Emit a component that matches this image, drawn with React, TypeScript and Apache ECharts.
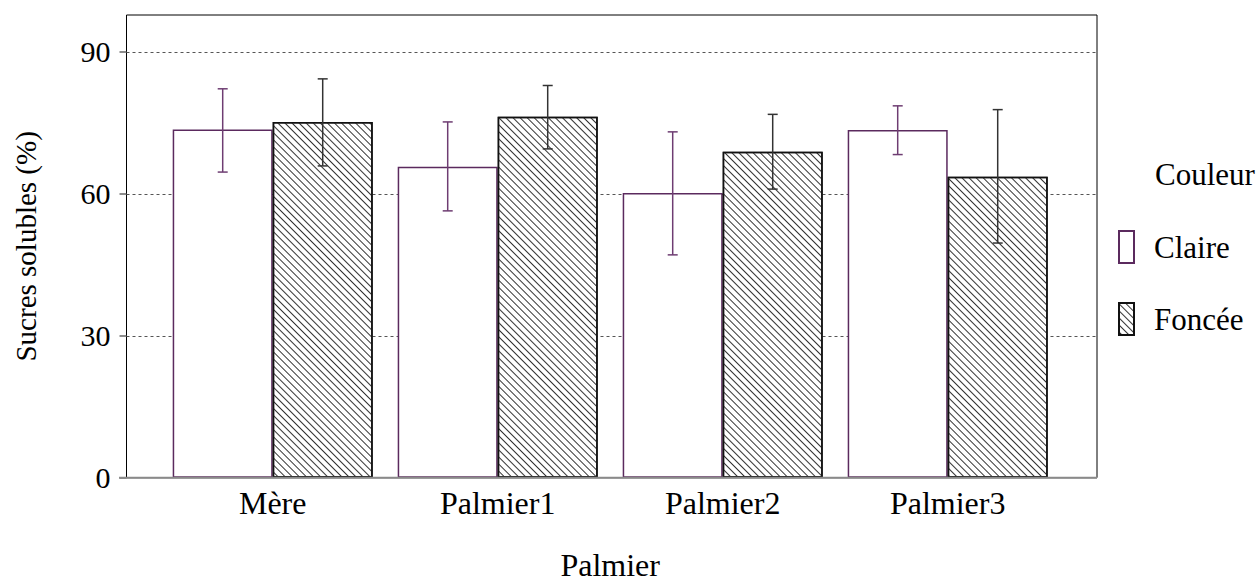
import React, { useEffect, useRef } from "react";
import * as echarts from "echarts";

const categories = ["Mère", "Palmier1", "Palmier2", "Palmier3"];
const claireValues = [73.6, 65.7, 60.2, 73.5];
const claireLow = [64.6, 56.4, 47.1, 68.3];
const claireHigh = [82.2, 75.2, 73.1, 78.6];
const fonceeValues = [75.2, 76.3, 68.9, 63.6];
const fonceeLow = [65.9, 69.5, 61.0, 49.6];
const fonceeHigh = [84.3, 82.9, 76.8, 77.8];
const yTicks = [0, 30, 60, 90];

const FONT = "Times New Roman, Liberation Serif, DejaVu Serif, serif";
const PURPLE = "#5b2a5e";
const PURPLE_ERR = "#6e3d72";

const hatch = {
  symbol: "rect",
  symbolSize: 1,
  dashArrayX: [1, 0],
  dashArrayY: [1, 4],
  rotation: Math.PI / 4,
  color: "#333",
  backgroundColor: "#fff",
};

function errorSeries(name: string, low: number[], high: number[], offset: number, color: string) {
  return {
    type: "custom",
    name: name + "-err",
    xAxisIndex: 1,
    yAxisIndex: 1,
    z: 5,
    data: categories.map((c, i) => [i, low[i], high[i]]),
    encode: { x: 0, y: [1, 2] },
    renderItem: (params: any, api: any) => {
      const i = api.value(0);
      const lo = api.coord([i, api.value(1)]);
      const hi = api.coord([i, api.value(2)]);
      const x = lo[0] + offset;
      const cap = 5;
      const style = { stroke: color, lineWidth: 1.5 };
      return {
        type: "group",
        children: [
          { type: "line", shape: { x1: x, y1: lo[1], x2: x, y2: hi[1] }, style },
          { type: "line", shape: { x1: x - cap, y1: lo[1], x2: x + cap, y2: lo[1] }, style },
          { type: "line", shape: { x1: x - cap, y1: hi[1], x2: x + cap, y2: hi[1] }, style },
        ],
      };
    },
  };
}

export default function App() {
  const ref = useRef<HTMLDivElement>(null);
  useEffect(() => {
    if (!ref.current) return;
    const chart = echarts.init(ref.current, undefined, { renderer: "svg" });
    const yMax = 97.8;
    chart.setOption({
      animation: false,
      backgroundColor: "#fff",
      textStyle: { fontFamily: FONT },
      grid: [
        { left: 126.5, right: 162, top: 15, bottom: 108.3, show: true, borderColor: "#000", borderWidth: 1, backgroundColor: "transparent", outerBoundsMode: "none", containLabel: false },
        { left: 160.2, right: 198.8, top: 15, bottom: 108.3, outerBoundsMode: "none", containLabel: false },
      ],
      xAxis: [
        { type: "value", gridIndex: 0, min: 0, max: 1, show: false },
        {
          type: "category",
          gridIndex: 1,
          data: categories,
          axisLine: { show: false },
          axisTick: { show: false },
          axisLabel: { fontSize: 32, color: "#000", fontFamily: FONT, margin: 9 },
          name: "Palmier",
          nameLocation: "middle",
          nameGap: 71,
          nameTextStyle: { fontSize: 32, color: "#000", fontFamily: FONT },
        },
      ],
      yAxis: [
        {
          type: "value",
          gridIndex: 0,
          min: 0,
          max: yMax,
          interval: 30,
          axisLine: { show: false },
          axisTick: { show: true, length: 7, lineStyle: { color: "#666", width: 1.5 }, customValues: yTicks },
          axisLabel: { fontSize: 30, color: "#000", fontFamily: FONT, margin: 16, customValues: yTicks },
          splitLine: { show: true, lineStyle: { color: "#555", type: [3, 3], width: 1 } },
          name: "Sucres solubles (%)",
          nameLocation: "middle",
          nameRotate: 90,
          nameGap: 86,
          nameTextStyle: { fontSize: 29, color: "#000", fontFamily: FONT },
        },
        { type: "value", gridIndex: 1, min: 0, max: yMax, show: false },
      ],
      legend: {
        orient: "vertical",
        left: 1118,
        top: 230,
        padding: 0,
        itemWidth: 15,
        itemHeight: 32,
        itemGap: 38,
        icon: "rect",
        data: ["Claire", "Foncée"],
        textStyle: { fontSize: 31, color: "#000", fontFamily: FONT, padding: [0, 0, 0, 15] },
      },
      graphic: [
        {
          type: "text",
          left: 1155,
          top: 159,
          style: { text: "Couleur", fontSize: 31, fill: "#000", fontFamily: FONT },
        },
        {
          type: "line",
          z: 10,
          shape: { x1: 119, y1: 477.7, x2: 1097, y2: 477.7 },
          style: { stroke: "#8a8a8a", lineWidth: 2 },
        },
      ],
      series: [
        {
          type: "bar",
          name: "Claire",
          xAxisIndex: 1,
          yAxisIndex: 1,
          barWidth: 100,
          barGap: "0%",
          z: 3,
          data: claireValues,
          itemStyle: { color: "#fff", borderColor: PURPLE, borderWidth: 1.5 },
        },
        {
          type: "bar",
          name: "Foncée",
          xAxisIndex: 1,
          yAxisIndex: 1,
          barWidth: 100,
          barGap: "0%",
          z: 3,
          data: fonceeValues,
          itemStyle: { color: "#fff", borderColor: "#111", borderWidth: 1.5, decal: hatch },
        },
        errorSeries("Claire", claireLow, claireHigh, -50, PURPLE_ERR),
        errorSeries("Foncée", fonceeLow, fonceeHigh, 50, "#333"),
      ],
    });
    return () => chart.dispose();
  }, []);
  return <div ref={ref} style={{ width: 1259, height: 586, position: "absolute", left: 0, top: 0 }} />;
}
